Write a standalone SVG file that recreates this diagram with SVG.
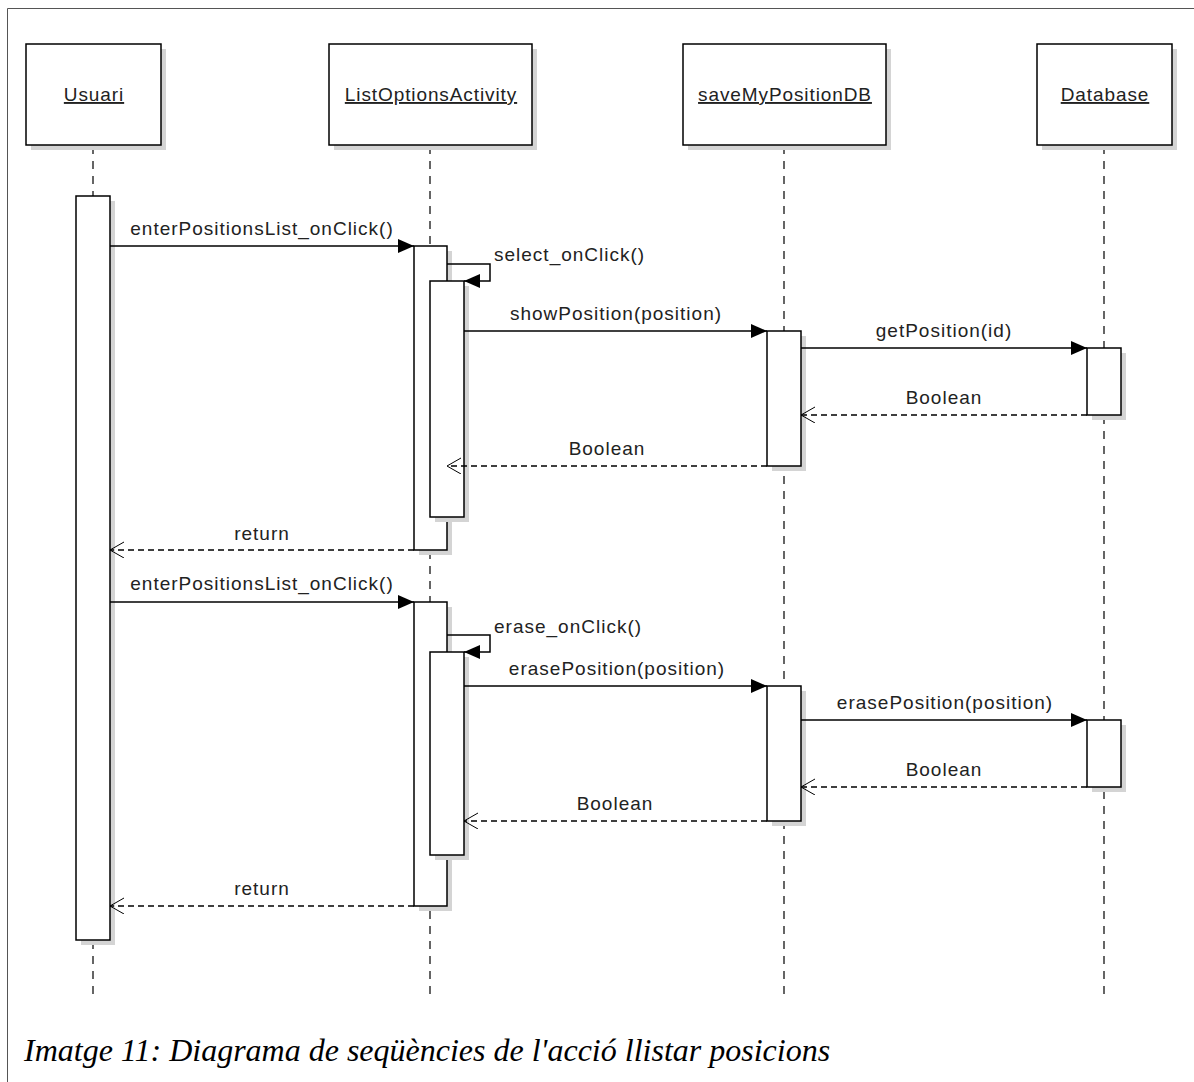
<svg xmlns="http://www.w3.org/2000/svg" width="1194" height="1082" viewBox="0 0 1194 1082">
<defs>
<style>
.frame{fill:none;stroke:#555;stroke-width:1}
.head{fill:#fff;stroke:#000;stroke-width:1.5}
.shadow{fill:#d4d4d4;stroke:none}
.act{fill:#fff;stroke:#000;stroke-width:1.5}
.life{stroke:#333;stroke-width:1.5;stroke-dasharray:8,7;fill:none}
.msg{stroke:#000;stroke-width:1.5;fill:none}
.ret{stroke:#000;stroke-width:1.5;fill:none;stroke-dasharray:6,4}
.lbl{font-family:"Liberation Sans",Arial,sans-serif;font-size:19px;letter-spacing:1px;fill:#222;text-anchor:middle}
.name{font-family:"Liberation Sans",Arial,sans-serif;font-size:19px;letter-spacing:0.9px;fill:#222;text-anchor:middle;text-decoration:underline}
.cap{font-family:"Liberation Serif","Times New Roman",serif;font-style:italic;font-size:32px;fill:#000}
</style>
<marker id="fill" markerUnits="userSpaceOnUse" markerWidth="18" markerHeight="16" refX="16" refY="7" orient="auto">
<path d="M0,0 L16,7 L0,14 z" fill="#000"/>
</marker>
<marker id="open" markerUnits="userSpaceOnUse" markerWidth="16" markerHeight="18" refX="14" refY="8" orient="auto">
<path d="M0,0 L14,8 L0,16" fill="none" stroke="#000" stroke-width="1"/>
</marker>
</defs>
<rect width="1194" height="1082" fill="#fff"/>
<path class="frame" d="M7.5,1082 V8.5 H1194"/>

<g id="lifelines">
<line class="life" x1="93" y1="146" x2="93" y2="998"/>
<line class="life" x1="430" y1="146" x2="430" y2="998"/>
<line class="life" x1="784" y1="146" x2="784" y2="998"/>
<line class="life" x1="1104" y1="146" x2="1104" y2="998"/>
</g>

<g id="usuari">
<rect class="shadow" x="31" y="49" width="135" height="101"/>
<rect class="head" x="26" y="44" width="135" height="101"/>
<text class="name" x="94" y="101">Usuari</text>
<rect class="shadow" x="81" y="201" width="34" height="744"/>
<rect class="act" x="76" y="196" width="34" height="744"/>
</g>

<g id="listOptionsActivity">
<rect class="shadow" x="334" y="49" width="203" height="101"/>
<rect class="head" x="329" y="44" width="203" height="101"/>
<text class="name" x="431" y="101">ListOptionsActivity</text>
<rect class="shadow" x="419" y="251" width="33" height="304"/>
<rect class="act" x="414" y="246" width="33" height="304"/>
<rect class="shadow" x="435" y="286" width="34" height="236"/>
<rect class="act" x="430" y="281" width="34" height="236"/>
<rect class="shadow" x="419" y="607" width="33" height="304"/>
<rect class="act" x="414" y="602" width="33" height="304"/>
<rect class="shadow" x="435" y="657" width="34" height="203"/>
<rect class="act" x="430" y="652" width="34" height="203"/>
</g>

<g id="saveMyPositionDB">
<rect class="shadow" x="688" y="49" width="203" height="101"/>
<rect class="head" x="683" y="44" width="203" height="101"/>
<text class="name" x="785" y="101">saveMyPositionDB</text>
<rect class="shadow" x="772" y="336" width="34" height="135"/>
<rect class="act" x="767" y="331" width="34" height="135"/>
<rect class="shadow" x="772" y="691" width="34" height="135"/>
<rect class="act" x="767" y="686" width="34" height="135"/>
</g>

<g id="database">
<rect class="shadow" x="1042" y="49" width="135" height="101"/>
<rect class="head" x="1037" y="44" width="135" height="101"/>
<text class="name" x="1105" y="101">Database</text>
<rect class="shadow" x="1092" y="353" width="34" height="67"/>
<rect class="act" x="1087" y="348" width="34" height="67"/>
<rect class="shadow" x="1092" y="725" width="34" height="67"/>
<rect class="act" x="1087" y="720" width="34" height="67"/>
</g>

<g id="connectors">
<line class="msg" x1="110" y1="246" x2="414" y2="246" marker-end="url(#fill)"/>
<text class="lbl" x="262" y="235">enterPositionsList_onClick()</text>
<polyline class="msg" points="447,264 490,264 490,281 464,281" marker-end="url(#fill)"/>
<text class="lbl" x="494" y="261" style="text-anchor:start">select_onClick()</text>
<line class="msg" x1="464" y1="331" x2="767" y2="331" marker-end="url(#fill)"/>
<text class="lbl" x="616" y="320">showPosition(position)</text>
<line class="msg" x1="801" y1="348" x2="1087" y2="348" marker-end="url(#fill)"/>
<text class="lbl" x="944" y="337">getPosition(id)</text>
<line class="ret" x1="1087" y1="415" x2="801" y2="415" marker-end="url(#open)"/>
<text class="lbl" x="944" y="404">Boolean</text>
<line class="ret" x1="767" y1="466" x2="447" y2="466" marker-end="url(#open)"/>
<text class="lbl" x="607" y="455">Boolean</text>
<line class="ret" x1="414" y1="550" x2="110" y2="550" marker-end="url(#open)"/>
<text class="lbl" x="262" y="540">return</text>
<line class="msg" x1="110" y1="602" x2="414" y2="602" marker-end="url(#fill)"/>
<text class="lbl" x="262" y="590">enterPositionsList_onClick()</text>
<polyline class="msg" points="447,635 490,635 490,652 464,652" marker-end="url(#fill)"/>
<text class="lbl" x="494" y="633" style="text-anchor:start">erase_onClick()</text>
<line class="msg" x1="464" y1="686" x2="767" y2="686" marker-end="url(#fill)"/>
<text class="lbl" x="617" y="675">erasePosition(position)</text>
<line class="msg" x1="801" y1="720" x2="1087" y2="720" marker-end="url(#fill)"/>
<text class="lbl" x="945" y="709">erasePosition(position)</text>
<line class="ret" x1="1087" y1="787" x2="801" y2="787" marker-end="url(#open)"/>
<text class="lbl" x="944" y="776">Boolean</text>
<line class="ret" x1="767" y1="821" x2="464" y2="821" marker-end="url(#open)"/>
<text class="lbl" x="615" y="810">Boolean</text>
<line class="ret" x1="414" y1="906" x2="110" y2="906" marker-end="url(#open)"/>
<text class="lbl" x="262" y="895">return</text>
</g>

<text class="cap" x="24" y="1061">Imatge 11: Diagrama de seqüències de l'acció llistar posicions</text>
</svg>
